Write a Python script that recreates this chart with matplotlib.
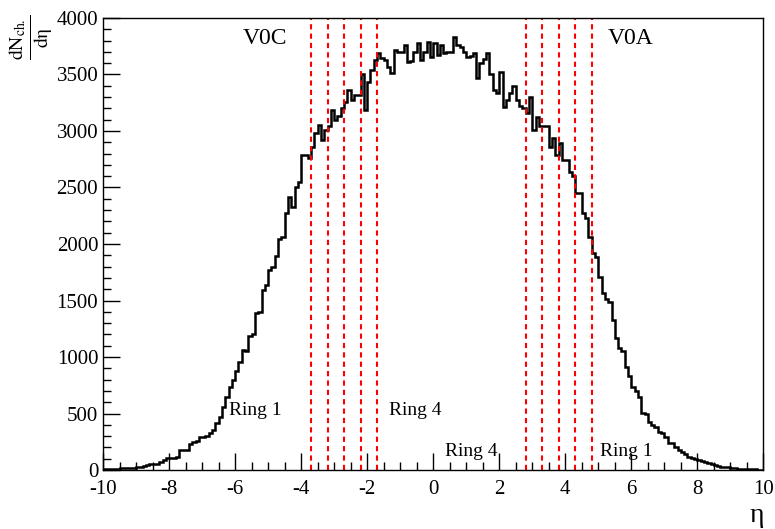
import numpy as np
import matplotlib.pyplot as plt
from matplotlib.ticker import MultipleLocator

plt.rcParams['font.family'] = ['Liberation Serif', 'DejaVu Serif']
plt.rcParams['mathtext.fontset'] = 'stix'
plt.rcParams['axes.unicode_minus'] = False

# dN/deta per bin of 0.1 in eta, from -10 to 10
counts_m10 = [5, 8, 10, 12, 10, 15, 18, 15, 20, 22]
counts_m9 = [25, 30, 35, 40, 50, 55, 55, 70, 85, 105]
counts_m8 = [110, 110, 115, 175, 180, 180, 230, 250, 260, 290]
counts_m7 = [290, 300, 330, 355, 415, 470, 560, 650, 735, 800]
counts_m6 = [880, 960, 1060, 1050, 1190, 1200, 1390, 1400, 1590, 1640]
counts_m5 = [1770, 1800, 1890, 2040, 2060, 2275, 2420, 2330, 2500, 2550]
counts_m4 = [2790, 2790, 2760, 2860, 2980, 3050, 2920, 3010, 3040, 3185]
counts_m3 = [3100, 3130, 3200, 3260, 3360, 3270, 3320, 3320, 3500, 3185]
counts_m2 = [3430, 3540, 3630, 3690, 3645, 3630, 3570, 3510, 3720, 3700]
counts_m1 = [3700, 3760, 3610, 3620, 3700, 3780, 3630, 3700, 3790, 3655]
counts_0 = [3780, 3670, 3760, 3690, 3700, 3700, 3830, 3760, 3745, 3700]
counts_1 = [3655, 3660, 3690, 3470, 3600, 3640, 3690, 3500, 3360, 3340]
counts_2 = [3520, 3210, 3270, 3340, 3400, 3270, 3220, 3200, 3160, 3300]
counts_3 = [3010, 3120, 3040, 3040, 3040, 2860, 2940, 2790, 2890, 2740]
counts_4 = [2740, 2640, 2600, 2450, 2450, 2270, 2230, 2060, 1920, 1885]
counts_5 = [1710, 1565, 1510, 1490, 1330, 1170, 1080, 1050, 910, 830]
counts_6 = [735, 700, 650, 505, 500, 425, 400, 380, 335, 330]
counts_7 = [290, 240, 235, 205, 180, 160, 145, 115, 110, 100]
counts_8 = [90, 80, 70, 60, 55, 45, 35, 30, 28, 25]
counts_9 = [18, 15, 12, 10, 8, 6, 5, 5, 3, 2]

counts = np.array(counts_m10 + counts_m9 + counts_m8 + counts_m7 + counts_m6 +
                  counts_m5 + counts_m4 + counts_m3 + counts_m2 + counts_m1 +
                  counts_0 + counts_1 + counts_2 + counts_3 + counts_4 +
                  counts_5 + counts_6 + counts_7 + counts_8 + counts_9)
edges = np.linspace(-10, 10, len(counts) + 1)

# ring boundaries
v0c_edges = [-3.7, -3.2, -2.7, -2.2, -1.7]
v0a_edges = [2.8, 3.3, 3.8, 4.3, 4.8]

fig = plt.figure(figsize=(7.75, 5.29), dpi=100)
ax = fig.add_axes([0.133, 0.1115, 0.852, 0.8545])

ax.stairs(counts, edges, color='black', linewidth=1.8)
for xv in v0c_edges + v0a_edges:
    ax.plot([xv, xv], [0, 4000], color='red', linewidth=1.5, linestyle=(0, (2.5, 2)))

ax.set_xlim(-10, 10)
ax.set_ylim(0, 4000)
ax.xaxis.set_major_locator(MultipleLocator(2))
ax.xaxis.set_minor_locator(MultipleLocator(0.5))
ax.yaxis.set_major_locator(MultipleLocator(500))
ax.yaxis.set_minor_locator(MultipleLocator(100))
ax.tick_params(which='both', direction='in', top=False, right=False, labelsize=15, width=1)
ax.tick_params(which='major', length=12)
ax.tick_params(which='minor', length=6)
ax.tick_params(axis='x', pad=7)
for s in ax.spines.values():
    s.set_linewidth(1)

ax.text(-5.1, 3820, 'V0C', fontsize=17, ha='center', va='center')
ax.text(5.3, 3820, 'V0A', fontsize=17, ha='left', va='center')
ax.text(-6.2, 530, 'Ring 1', fontsize=14, ha='left', va='center')
ax.text(-1.35, 530, 'Ring 4', fontsize=14, ha='left', va='center')
ax.text(0.35, 160, 'Ring 4', fontsize=14, ha='left', va='center')
ax.text(5.05, 160, 'Ring 1', fontsize=14, ha='left', va='center')

fig.text(0.04, 0.93, r'$\frac{\mathrm{dN_{ch.}}}{\mathrm{dη}}$', fontsize=20,
         rotation=90, ha='center', va='center')
fig.text(0.977, 0.025, 'η', fontsize=20, ha='center', va='center')

fig.savefig('out.png', dpi=100)
